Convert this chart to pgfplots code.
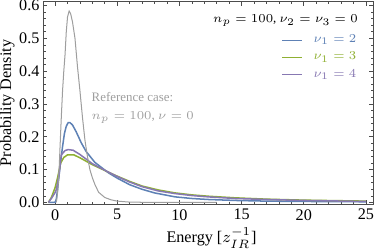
\documentclass[border=0pt]{standalone}
\usepackage{fontspec}
\setmainfont{Liberation Serif}
\usepackage{pgfplots}
\pgfplotsset{compat=1.18}
\definecolor{cblue}{rgb}{0.368,0.507,0.710}
\definecolor{cgreen}{rgb}{0.560,0.692,0.195}
\definecolor{cpurple}{rgb}{0.530,0.470,0.700}
\definecolor{cgray}{gray}{0.62}
\begin{document}
\begin{tikzpicture}
\begin{axis}[
  scale only axis, width=163.5pt, height=100.4pt,
  xmin=-0.97, xmax=25.6, ymin=-0.006, ymax=0.612,
  xtick={0,5,10,15,20,25}, ytick={0,0.1,0.2,0.3,0.4,0.5,0.6},
  minor x tick num=4, minor y tick num=4,
  tick align=inside, major tick length=2.2pt, minor tick length=1.3pt,
  axis line style={black!70, line width=0.4pt},
  every tick/.style={black!70, line width=0.35pt},
  /pgf/number format/assume math mode=true,
  yticklabel style={/pgf/number format/fixed, /pgf/number format/precision=1, /pgf/number format/fixed zerofill, inner sep=0pt, xshift=-1.6pt},
  xticklabel style={inner sep=0pt, yshift=-2.2pt},
  ticklabel style={font=\fontsize{8}{9}\selectfont},
  label style={font=\fontsize{8}{9}\selectfont},
  xlabel={Energy [$z_{IR}^{-1}$]},
  xlabel style={at={(axis description cs:0.51,0)}, anchor=base, inner sep=0pt, yshift=-19pt},
  ylabel={Probability Density},
  ylabel style={at={(axis description cs:-0.0963,0.5)}, anchor=base, inner sep=0pt},
  legend style={at={(rel axis cs:0.957,0.85)}, anchor=north east, draw=none, fill=none,
    font=\fontsize{6.4}{7}\selectfont, row sep=0.8pt, inner sep=0pt,
    nodes={inner sep=1.2pt}},
  legend cell align=right,
  legend image code/.code={\draw[#1, line width=0.6pt] (0pt,0pt) -- (10pt,0pt); \path (14pt,0pt);},
]
\addplot[cblue, line width=0.75pt] coordinates {
(-0.54,0)(0,0)(0.1,0.01)(0.2,0.04)(0.3,0.075)(0.4,0.11)(0.5,0.14)(0.6,0.17)(0.75,0.21)(0.9,0.232)(1.05,0.243)(1.2,0.243)(1.4,0.236)(1.7,0.215)(2.1,0.182)(2.5,0.155)(3.2,0.122)(4.3,0.09)(5,0.074)(6,0.054)(7,0.04)(8,0.029)(9.65,0.017)(11,0.012)(12.3,0.009)(14.5,0.006)(17,0.004)(20,0.003)(25,0.002)
};
\addlegendentry{\textcolor{cblue}{$\nu_1=2$}}
\addplot[cgreen, line width=0.75pt] coordinates {
(-0.54,0)(-0.3,0.015)(0,0.045)(0.2,0.075)(0.45,0.12)(0.7,0.137)(1.0,0.145)(1.5,0.145)(2,0.136)(3,0.115)(4.3,0.092)(5,0.08)(6,0.064)(7,0.05)(8.3,0.038)(9.65,0.029)(11,0.023)(12.3,0.019)(14.5,0.014)(17,0.01)(20,0.007)(25,0.004)
};
\addlegendentry{\textcolor{cgreen}{$\nu_1=3$}}
\addplot[cpurple, line width=0.75pt] coordinates {
(-0.54,0)(-0.3,0.012)(0,0.03)(0.1,0.04)(0.3,0.08)(0.5,0.145)(0.8,0.158)(1.05,0.161)(1.45,0.159)(2,0.146)(3,0.118)(4.3,0.092)(5,0.079)(6,0.062)(7,0.048)(8.3,0.035)(9.65,0.027)(11,0.021)(12.3,0.017)(14.5,0.012)(17,0.009)(20,0.006)(25,0.003)
};
\addlegendentry{\textcolor{cpurple}{$\nu_1=4$}}
\addplot[cgray, line width=0.5pt, forget plot] coordinates {
(0.1,0)(0.2,0.03)(0.3,0.08)(0.4,0.17)(0.5,0.26)(0.6,0.34)(0.7,0.40)(0.8,0.45)(0.9,0.52)(1.0,0.565)(1.13,0.583)(1.25,0.575)(1.4,0.55)(1.6,0.50)(1.8,0.414)(2.0,0.34)(2.2,0.26)(2.4,0.19)(2.6,0.14)(2.8,0.10)(3.0,0.075)(3.2,0.055)(3.5,0.031)(4.0,0.015)(4.5,0.008)(5,0.004)(6,0.001)(8,0.0)(13,0)
};
\node[anchor=east, font=\fontsize{6.4}{7}\selectfont, inner sep=0pt] at (rel axis cs:0.954,0.905) {$n_p=100$, $\nu_2=\nu_3=0$};
\node[anchor=west, align=left, text=cgray, font=\fontsize{6.4}{8.8}\selectfont, inner sep=0pt] at (rel axis cs:0.146,0.475) {Reference case:\\$n_p=100$, $\nu=0$};
\end{axis}
\end{tikzpicture}
\end{document}
